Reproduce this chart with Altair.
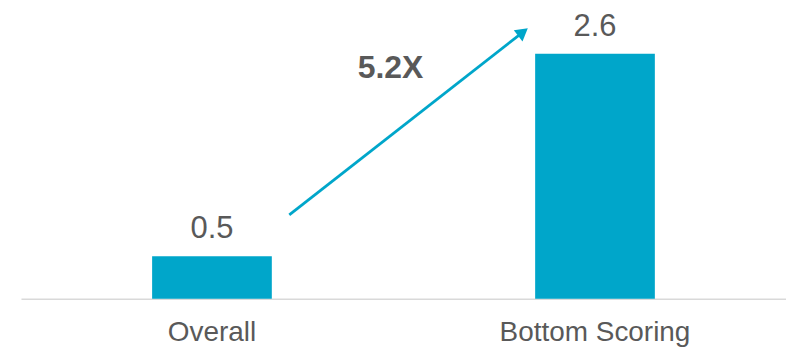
import altair as alt
import pandas as pd

categories = ["Overall", "Bottom Scoring"]
values = [0.45, 2.6]
value_labels = ["0.5", "2.6"]
multiplier_label = "5.2X"

BAR = "#00A6CA"
GRAY = "#595959"
FONT = "Liberation Sans"

df = pd.DataFrame({"cat": categories, "val": values, "lab": value_labels})

x = alt.X("cat:N", sort=categories,
          scale=alt.Scale(paddingInner=0.6875, paddingOuter=0.3424),
          axis=alt.Axis(title=None, labelAngle=0, ticks=False, domainColor="#d9d9d9",
                        domainWidth=1.5, labelFontSize=28, labelColor=GRAY,
                        labelFont=FONT, labelPadding=20, labelLimit=0))
y = alt.Y("val:Q", scale=alt.Scale(domain=[0, 3.08], nice=False), axis=None)

bars = alt.Chart(df).mark_bar(color=BAR).encode(x=x, y=y)
labels = alt.Chart(df).mark_text(font=FONT, fontSize=31, color=GRAY, dy=-18,
                                  baseline="alphabetic").encode(x=x, y=y, text="lab:N")

arrow_line = alt.Chart(pd.DataFrame({"a": [0]})).mark_rule(color=BAR, strokeWidth=2.8).encode(
    x=alt.value(269), y=alt.value(207), x2=alt.value(503), y2=alt.value(24))
arrow_head = alt.Chart(pd.DataFrame({"a": [0]})).mark_point(
    shape="triangle-up", angle=52, filled=True, color=BAR, size=200, opacity=1).encode(
    x=alt.value(503.3), y=alt.value(23.7))
mult = alt.Chart(pd.DataFrame({"t": [multiplier_label]})).mark_text(
    font=FONT, fontSize=32, fontWeight="bold", color=GRAY, baseline="alphabetic").encode(
    x=alt.value(370.5), y=alt.value(70), text="t:N")

chart = alt.layer(bars, labels, arrow_line, arrow_head, mult).properties(
    width=767, height=291,
    padding={"left": 13, "top": 0, "right": 0, "bottom": 0},
).configure_view(stroke=None)

chart.save("out.html", embed_options={"renderer": "svg", "actions": False})
